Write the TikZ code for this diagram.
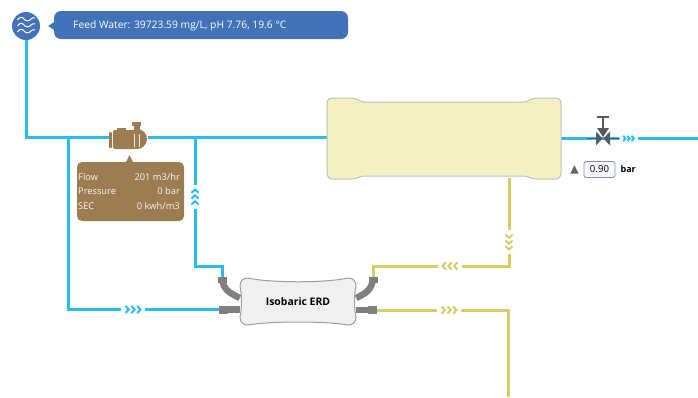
\documentclass[tikz,border=0pt]{standalone}
\usepackage{xcolor}
\usepackage{fontspec}
\setmainfont{Open Sans}
\usetikzlibrary{positioning}

\definecolor{waterblue}{HTML}{29BDEF}
\definecolor{brineyellow}{HTML}{D9CC66}
\definecolor{calloutblue}{HTML}{4272B8}
\definecolor{pumpbrown}{HTML}{9C7C50}
\definecolor{portgrey}{HTML}{7F7F7F}
\definecolor{valvegrey}{HTML}{555B60}
\definecolor{membraneyellow}{HTML}{F3F1C4}

\begin{document}
\begin{tikzpicture}[
x=1pt,y=-1pt,
every node/.style={font=\fontsize{9.3}{11}\selectfont},
waterpipe/.style={draw=waterblue,line width=3pt},
brinepipe/.style={draw=brineyellow,line width=3pt},
gapnode/.style={minimum size=24pt,inner sep=0pt},
erdport/.style={draw=portgrey,line width=6.5pt},
erdcap/.style={draw=portgrey,line width=8pt},
infolabel/.style={text=white!92!pumpbrown,inner sep=0pt,anchor=west},
infovalue/.style={text=white!92!pumpbrown,inner sep=0pt,anchor=east},
chevrons/.pic={
    \foreach \i in {-1,0,1}
        \draw[line width=2pt] (\i*5.8-1.6,-3.6) -- ++(3.2,3.6) -- ++(-3.2,3.6);
}
]
\useasboundingbox (0,0) rectangle (698,397);

% places
\node (source) [circle,fill=calloutblue,minimum size=28pt,inner sep=0pt] at (26,26) {};
\node (pump) [minimum width=38pt,minimum height=20pt,inner sep=0pt] at (129,137.5) {};
\node (membrane) [minimum width=234pt,minimum height=82pt,inner sep=0pt] at (444,139) {};
\node (valve) [minimum size=14pt,inner sep=0pt] at (603,138.5) {};
\node (erd) [minimum width=116pt,minimum height=47pt,inner sep=0pt] at (298,301.5) {};

\coordinate (teefeed) at (68,137.5);
\coordinate (teeerd) at (195,137.5);
\coordinate (bendwater) at (222,266);
\coordinate (portwater) at (222,277);
\coordinate (portfeed) at (224,309.5);
\coordinate (portbrine) at (373,277);
\coordinate (bendbrine) at (373,266);
\coordinate (portout) at (373,310);
\coordinate (brineout) at (509,178);
\coordinate (cornerbrine) at (509,266);
\coordinate (cornerout) at (508,310);
\coordinate (drain) at (508,397);
\coordinate (outlet) at (698,138.5);

\foreach \name/\xpos/\ypos/\rot/\col in {
    gapfeed/133/309.5/0/waterblue,
    gaperd/195/197/90/waterblue,
    gapdown/509/242/270/brineyellow,
    gapback/450/266/180/brineyellow,
    gapout/449/310/0/brineyellow}{
    \node (\name) [gapnode] at (\xpos,\ypos) {};
    \pic[color=\col,rotate=\rot] at (\name) {chevrons};
}
\node (gapvalve) [gapnode,minimum size=18pt] at (628.5,138.5) {};
\pic[color=waterblue,scale=.72] at (gapvalve) {chevrons};

% water side
\draw[waterpipe] (source) |- (pump);
\draw[waterpipe] (pump) -- (pump -| membrane.west);
\draw[waterpipe] (teefeed) |- (gapfeed);
\draw[waterpipe] (gapfeed) -- (portfeed);
\draw[waterpipe] (teeerd) -- (gaperd);
\draw[waterpipe] (gaperd) |- (bendwater) -- (portwater);
\draw[waterpipe] (membrane.east |- valve) -- (gapvalve);
\draw[waterpipe] (gapvalve) -- (outlet);

% brine side
\draw[brinepipe] (brineout) -- (gapdown);
\draw[brinepipe] (gapdown) |- (gapback);
\draw[brinepipe] (gapback) -- (bendbrine) -- (portbrine);
\draw[brinepipe] (portout) -- (gapout);
\draw[brinepipe] (gapout) -- (cornerout) -- (drain);

% feed callout
\fill[calloutblue] (source.east) ++(8,0) -- ++(6,-4) -- ++(0,8) -- cycle;
\node (feedbox) [fill=calloutblue,rounded corners=7pt,minimum width=294pt,minimum height=28pt,inner sep=0pt] at (201,25) {};
\node (feedtext) [text=white,inner sep=0pt,anchor=west,font=\fontsize{10.3}{12}\selectfont] at (73,25.5) {Feed Water: 39723.59 mg/L, pH 7.76, 19.6 °C};
\foreach \w in {20,26,32}
    \draw[white,line width=1pt] (17.5,\w) .. controls (20,\w-3.5) and (22,\w-3.5) .. (24,\w-1) .. controls (26,\w+1.5) and (29,\w+1.5) .. (31,\w-1) .. controls (32,\w-2.2) and (33.5,\w-2.6) .. (35,\w-2);

% pump
\fill[pumpbrown,rounded corners=1pt] (109,132) rectangle (112,148);
\fill[pumpbrown,rounded corners=2pt] (113,130) rectangle (136,149);
\fill[pumpbrown] (117,127.5) rectangle (126,131);
\fill[pumpbrown] (137,139) circle (10pt);
\fill[pumpbrown] (133.5,125) rectangle (139.5,131);
\fill[pumpbrown] (132,122) rectangle (141,125.5);
\draw[white!85!pumpbrown,line width=1pt] (134.5,134) -- (134.5,147) (139,134) -- (139,147);
\fill[pumpbrown] (126,162) -- (129.5,155) -- (133,162) -- cycle;

% pump readings
\node (pumpinfo) [fill=pumpbrown,rounded corners=5pt,minimum width=107pt,minimum height=59pt,inner sep=0pt] at (130.5,191.5) {};
\node (flowlabel) [infolabel] at (78,177) {Flow};
\node (flowvalue) [infovalue] at (180,177) {201 m3/hr};
\node (presslabel) [infolabel] at (78,191.5) {Pressure};
\node (pressvalue) [infovalue] at (180,191.5) {0 bar};
\node (seclabel) [infolabel] at (78,206.5) {SEC};
\node (secvalue) [infovalue] at (180,206.5) {0 kwh/m3};

% membrane outline
\draw[draw=black!25,fill=membraneyellow,line width=1pt]
    (333,98) -- (352,98) .. controls (358,98) and (358,102) .. (366,102)
    -- (522,102) .. controls (530,102) and (530,98) .. (536,98)
    -- (555,98) .. controls (559,98) and (561,100) .. (561,104)
    -- (561,173) .. controls (561,177) and (559,179) .. (555,179)
    -- (536,179) .. controls (530,179) and (530,176) .. (522,176)
    -- (366,176) .. controls (358,176) and (358,179) .. (352,179)
    -- (333,179) .. controls (329,179) and (327,177) .. (327,173)
    -- (327,104) .. controls (327,100) and (329,98) .. (333,98) -- cycle;

% energy recovery device
\draw[erdport] (portwater) ++(0,1) .. controls +(1,12) and (230,293) .. (erd.west |- 0,298);
\draw[erdport] (portbrine) ++(0,1) .. controls +(-1,12) and (366,293) .. (erd.east |- 0,298);
\draw[erdport] (portfeed) -- (erd.west |- portfeed);
\draw[erdport] (portout) -- (erd.east |- portout);
\draw[erdcap,line width=6pt] (218,279.5) -- (227,279.5);
\draw[erdcap,line width=6pt] (369,279.5) -- (378,279.5);
\draw[erdcap] (219,309.5) -- (228,309.5);
\draw[erdcap] (368,310) -- (377,310);
\draw[draw=black!38,fill=black!6,line width=1pt]
    (248,278) .. controls (270,283) and (326,283) .. (348,278)
    .. controls (353,278) and (356,281) .. (356,286)
    .. controls (354,295) and (354,308) .. (356,317)
    .. controls (356,322) and (353,325) .. (348,325)
    .. controls (326,321) and (270,321) .. (248,325)
    .. controls (243,325) and (240,322) .. (240,317)
    .. controls (242,308) and (242,295) .. (240,286)
    .. controls (240,281) and (243,278) .. cycle;
\node (erdlabel) [font=\fontsize{10.4}{12}\selectfont\bfseries,inner sep=0pt] at (erd) {Isobaric ERD};

% valve
\draw[valvegrey,line width=1.8pt] (597,117) -- (609,117);
\draw[valvegrey,line width=1.8pt] (603,117) -- (603,130);
\fill[valvegrey] (597,128) -- (609,128) -- (603,137) -- cycle;
\fill[valvegrey] (596,131.5) -- (602.5,138.5) -- (596,145.5) -- cycle;
\fill[valvegrey] (610,131.5) -- (603.5,138.5) -- (610,145.5) -- cycle;
\draw[valvegrey,line width=1.3pt] (587,138.5) -- (597,138.5);
\draw[valvegrey,line width=1.3pt] (609,138.5) -- (620,138.5);

% pressure setting
\node (pressbox) [draw=blue!30!black!45,fill=blue!3,rounded corners=2pt,line width=.8pt,minimum width=31pt,minimum height=16pt,inner sep=0pt,font=\fontsize{9.6}{11}\selectfont] at (599.5,169.5) {0.90};
\node (pressunit) [right=5pt of pressbox,inner sep=0pt,yshift=0pt,font=\fontsize{9}{10}\selectfont\bfseries] {bar};
\node (pressup) [left=5pt of pressbox,inner sep=0pt,minimum size=8pt] {};
\fill[black!60] (pressup.south west) -- (pressup.north) -- (pressup.south east) -- cycle;

\end{tikzpicture}
\end{document}
